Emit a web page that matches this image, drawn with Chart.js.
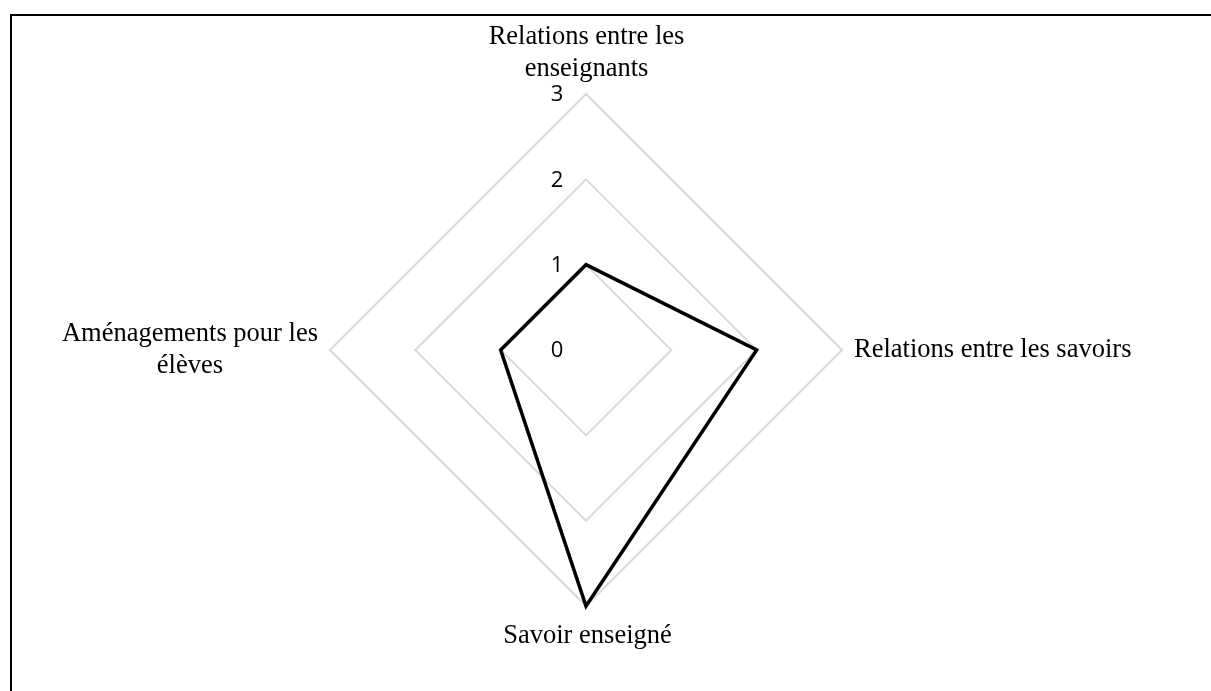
<!DOCTYPE html>
<html lang="fr">
  <head>
    <meta charset="UTF-8" />
    <title>Radar</title>
    <script src="https://cdn.jsdelivr.net/npm/chart.js@4.4.0/dist/chart.umd.min.js"></script>
    <style>
      html, body { margin: 0; padding: 0; background: #ffffff; }
      .contenedor { position: relative; width: 1211px; height: 691px; overflow: hidden; }
      .cadre {
        position: absolute; left: 10px; top: 14px; right: -5px; bottom: -5px;
        border-top: 2.5px solid #000000; border-left: 2.5px solid #000000;
      }
      .grafico { position: absolute; left: 0; top: 0; width: 1211px; height: 691px; }
    </style>
  </head>
  <body>
    <div class="contenedor">
      <div class="cadre"></div>
      <div class="grafico"><canvas id="radar"></canvas></div>
    </div>
  </body>
  <script>
    // categories (multi-line labels), values and scale ticks
    var categories = [
      ["Relations entre les", "enseignants"],
      ["Relations entre les savoirs"],
      ["Savoir enseigné"],
      ["Aménagements pour les", "élèves"],
    ];
    var valores = [1, 2, 3, 1];
    var tickValues = [0, 1, 2, 3];

    // tick labels drawn left of the vertical axis
    var tickLabel = {
      id: "tickLabel",
      afterDatasetsDraw(chart) {
        const scale = chart.scales.r;
        const ctx = chart.ctx;
        ctx.save();
        ctx.font = "22px 'Open Sans'";
        ctx.fillStyle = "#000000";
        ctx.textAlign = "center";
        ctx.textBaseline = "middle";
        scale.ticks.forEach(function (t) {
          const d = scale.getDistanceFromCenterForValue(t.value);
          ctx.fillText(t.label, scale.xCenter - 29, scale.yCenter - d + 1);
        });
        ctx.restore();
      },
    };

    // point labels, each block centred
    var pointLabel = {
      id: "pointLabel",
      afterDatasetsDraw(chart) {
        const scale = chart.scales.r;
        const ctx = chart.ctx;
        const lh = 31.5;
        ctx.save();
        ctx.font = "26.5px 'Liberation Serif'";
        ctx.fillStyle = "#000000";
        ctx.textBaseline = "alphabetic";
        ctx.textAlign = "center";
        for (let i = 0; i < categories.length; i++) {
          const lines = categories[i];
          const n = lines.length;
          let w = 0;
          lines.forEach(function (l) { w = Math.max(w, ctx.measureText(l).width); });
          if (i == 0) {
            const p = scale.getPointPosition(i, scale.drawingArea + 18.5);
            for (let k = 0; k < n; k++) ctx.fillText(lines[k], p.x + 0.5, p.y - (n - 1 - k) * lh);
          } else if (i == 2) {
            const p = scale.getPointPosition(i, scale.drawingArea + 36.5);
            for (let k = 0; k < n; k++) ctx.fillText(lines[k], p.x + 1.5, p.y + k * lh);
          } else {
            const p = scale.getPointPosition(i, scale.drawingArea + 12);
            const cx = i == 1 ? p.x + w / 2 : p.x - w / 2;
            const y0 = p.y - ((n - 1) * lh) / 2 + 7;
            for (let k = 0; k < n; k++) ctx.fillText(lines[k], cx, y0 + k * lh);
          }
        }
        ctx.restore();
      },
    };

    var chartRadar = new Chart(document.getElementById("radar"), {
      type: "radar",
      data: {
        labels: categories,
        datasets: [
          {
            data: valores,
            borderColor: "#000000",
            borderWidth: 3.5,
            borderJoinStyle: "miter",
            fill: false,
            pointRadius: 0,
            pointHoverRadius: 0,
            tension: 0,
          },
        ],
      },
      options: {
        responsive: true,
        maintainAspectRatio: false,
        animation: false,
        layout: {
          padding: { left: 330, right: 368, top: 94, bottom: 84 },
        },
        plugins: {
          legend: { display: false },
          tooltip: { enabled: false },
        },
        scales: {
          r: {
            min: tickValues[0],
            max: tickValues[tickValues.length - 1],
            ticks: { stepSize: 1, display: false },
            grid: { color: "#d9d9d9", lineWidth: 2 },
            angleLines: { display: false },
            pointLabels: { display: false },
          },
        },
      },
      plugins: [tickLabel, pointLabel],
    });
  </script>
</html>
